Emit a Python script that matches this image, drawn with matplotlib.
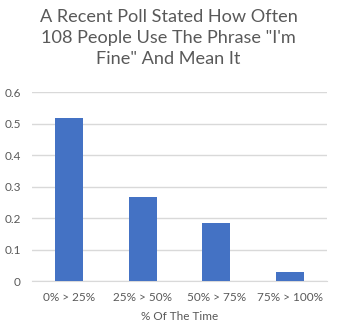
import matplotlib
matplotlib.use("Agg")
import matplotlib.pyplot as plt

categories = ["0% > 25%", "25% > 50%", "50% > 75%", "75% > 100%"]
values = [0.5185, 0.2685, 0.1852, 0.0278]
yticks = [0, 0.1, 0.2, 0.3, 0.4, 0.5, 0.6]
ytick_labels = ["0", "0.1", "0.2", "0.3", "0.4", "0.5", "0.6"]
title = 'A Recent Poll Stated How Often\n108 People Use The Phrase "I\'m\nFine" And Mean It'
xlabel = "% Of The Time"

plt.rcParams['font.family'] = ['Lato', 'DejaVu Sans']
gray = "#595959"

fig = plt.figure(figsize=(3.37, 3.33), dpi=100)
ax = fig.add_axes([0.095, 0.156, 0.875, 0.567])
x = list(range(len(categories)))
ax.bar(x, values, width=0.38, color="#4472C4", zorder=3)
ax.set_xlim(-0.5, 3.5)
ax.set_ylim(0, 0.6)
ax.set_yticks(yticks)
ax.set_yticklabels(ytick_labels)
ax.set_xticks(x)
ax.set_xticklabels(categories)
ax.grid(axis="y", color="#d9d9d9", linewidth=1, zorder=0)
for s in ["top", "right", "left"]:
    ax.spines[s].set_visible(False)
ax.spines["bottom"].set_color("#d9d9d9")
ax.tick_params(axis="both", length=0, colors=gray, labelsize=8.5)
ax.tick_params(axis="y", pad=8)
ax.tick_params(axis="x", pad=8)
ax.set_xlabel(xlabel, color=gray, fontsize=8.5, labelpad=6)
fig.text(0.5, 0.972, title, ha="center", va="top", fontsize=13.1, color=gray, linespacing=1.36)
fig.savefig("out.png", dpi=100, facecolor="white")
